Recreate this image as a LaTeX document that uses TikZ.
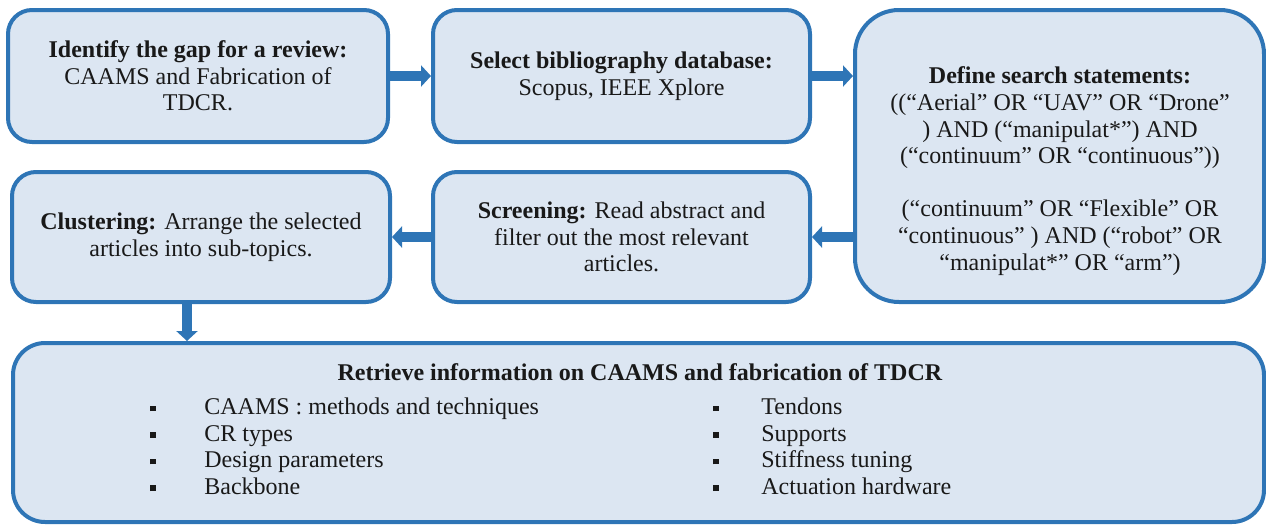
\documentclass[tikz,border=0pt]{standalone}
\usepackage{fontspec}
\setmainfont{Liberation Serif}
\usetikzlibrary{arrows.meta}
\definecolor{boxblue}{RGB}{46,117,182}
\definecolor{boxfill}{RGB}{220,230,242}
\definecolor{ink}{RGB}{25,25,25}
\newcommand{\sqbullet}{\rule[1.6pt]{2.8pt}{2.8pt}}
\begin{document}
\begin{tikzpicture}[x=0.5pt,y=-0.5pt,
  box/.style={draw=boxblue, fill=boxfill, line width=2pt, rounded corners=12pt,
    align=center, inner sep=0pt, text=ink, font=\fontsize{12}{13.3}\selectfont},
  txt/.style={align=center, inner sep=0pt, text=ink, font=\fontsize{12}{13.3}\selectfont},
  flow/.style={draw=boxblue, line width=5pt, -{Triangle[length=5pt,width=10.5pt]}},
]
\useasboundingbox (0,0) rectangle (1266,526);

% top row
\node[box, minimum width=190pt, minimum height=66pt] (b1) at (198,76)
  {\textbf{Identify the gap for a review:}\\CAAMS and Fabrication of\\TDCR.};
\node[box, minimum width=188.5pt, minimum height=66pt] (b2) at (621.5,76)
  {\textbf{Select bibliography database:}\\Scopus, IEEE Xplore};
\node[box, rounded corners=22pt, minimum width=204.5pt, minimum height=146pt] (b3) at (1059.5,156) {};
\node[txt] (t3) at (1060,171)
  {\textbf{Define search statements:}\\
   ((“Aerial” OR “UAV” OR “Drone”\\
   ) AND (“manipulat*”) AND\\
   (“continuum” OR “continuous”))\\[13.3pt]
   (“continuum” OR “Flexible” OR\\
   “continuous” ) AND (“robot” OR\\
   “manipulat*” OR “arm”)};

% middle row
\node[box, minimum width=189pt, minimum height=65pt] (b4) at (201,237)
  {\textbf{Clustering:} Arrange the selected\\articles into sub-topics.};
\node[box, minimum width=188.5pt, minimum height=65pt] (b5) at (621.5,237)
  {\textbf{Screening:} Read abstract and\\filter out the most relevant\\articles.};

% bottom box
\node[box, rounded corners=16pt, minimum width=625.5pt, minimum height=89.5pt] (b6) at (638.5,432.5) {};
\node[txt] (t6) at (640,372) {\textbf{Retrieve information on CAAMS and fabrication of TDCR}};
\node[txt, anchor=west] (l1) at (150,449)
  {\begin{tabular}{@{}l@{}}
   \makebox[27pt][l]{\sqbullet}CAAMS : methods and techniques\\
   \makebox[27pt][l]{\sqbullet}CR types\\
   \makebox[27pt][l]{\sqbullet}Design parameters\\
   \makebox[27pt][l]{\sqbullet}Backbone
   \end{tabular}};
\node[txt, anchor=west] (l2) at (713,449)
  {\begin{tabular}{@{}l@{}}
   \makebox[24pt][l]{\sqbullet}Tendons\\
   \makebox[24pt][l]{\sqbullet}Supports\\
   \makebox[24pt][l]{\sqbullet}Stiffness tuning\\
   \makebox[24pt][l]{\sqbullet}Actuation hardware
   \end{tabular}};

% flow arrows
\draw[flow] (b1) -- (b2);
\draw[flow] (b2.east) -- (b2.east -| b3.west);
\draw[flow] (b3.west |- b5.east) -- (b5.east);
\draw[flow] (b5) -- (b4);
\draw[flow] ([xshift=-7pt]b4.south) -- ([xshift=-7pt]b4.south |- b6.north);
\end{tikzpicture}
\end{document}
